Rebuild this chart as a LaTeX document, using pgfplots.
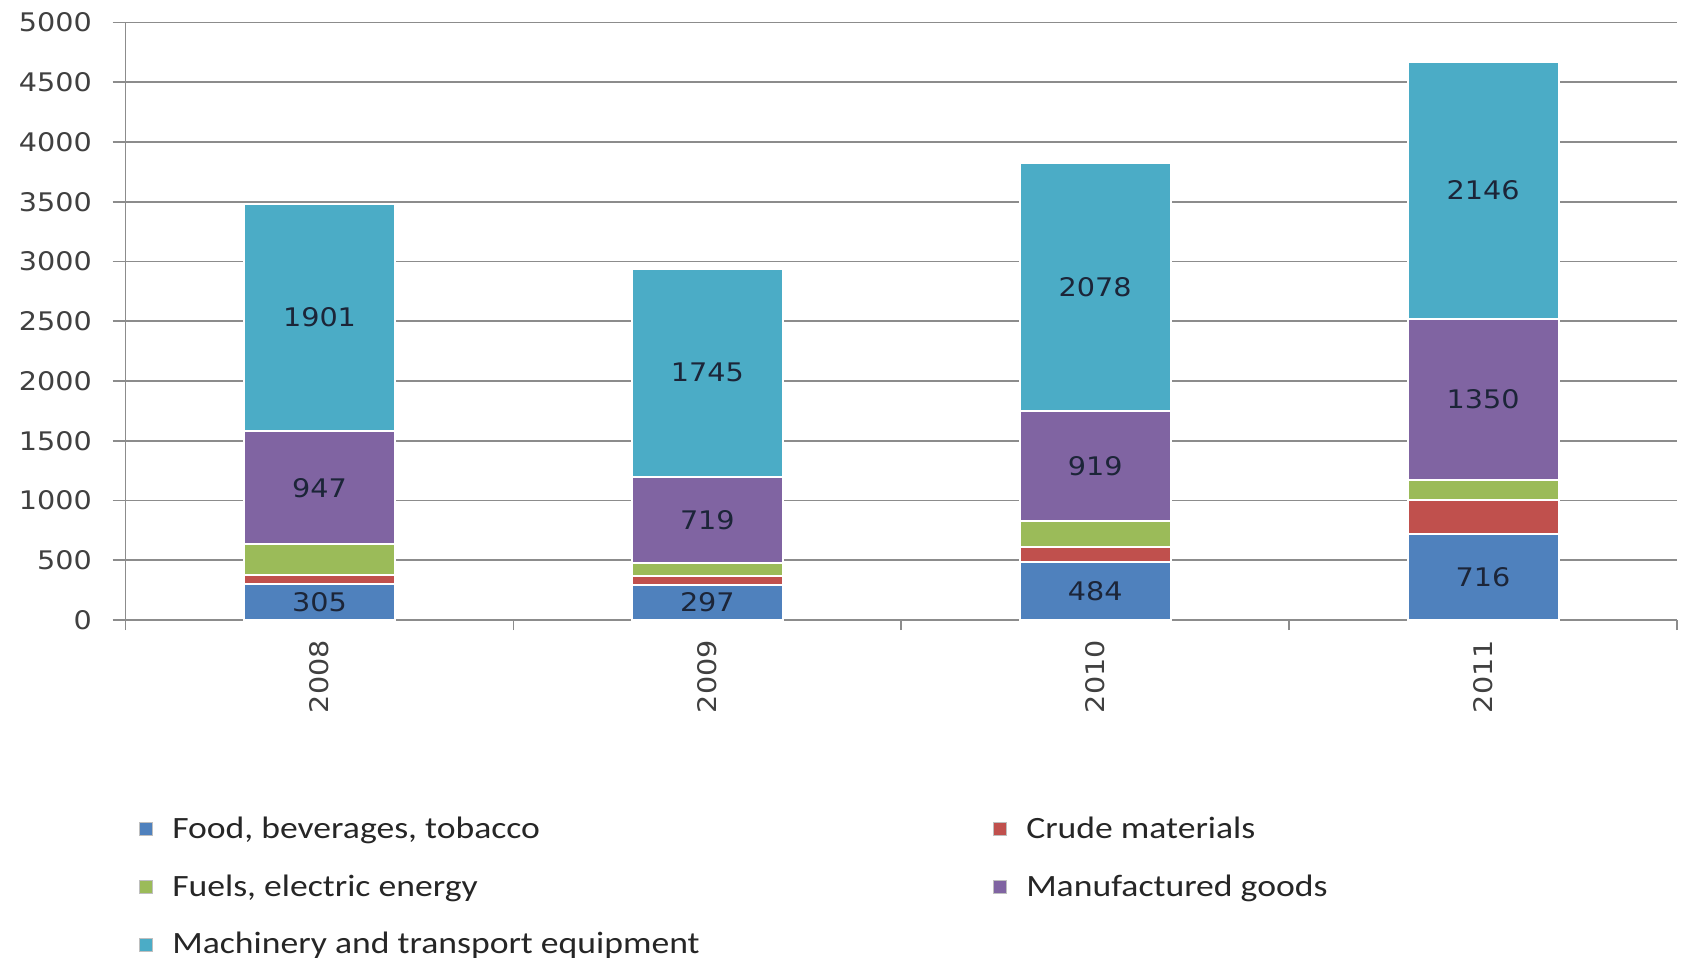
\documentclass[border=0pt]{standalone}
\usepackage{pgfplots}
\pgfplotsset{compat=1.18}
\usepackage{fontspec}
\setmainfont{Carlito}[FakeStretch=1.15]
\newfontfamily\numfont{DejaVu Sans}[FakeStretch=1.12]

\definecolor{food}{HTML}{4F81BD}
\definecolor{crude}{HTML}{C0504D}
\definecolor{fuels}{HTML}{9BBB59}
\definecolor{manuf}{HTML}{8064A2}
\definecolor{mach}{HTML}{4BACC6}
\definecolor{gridgray}{HTML}{8C8C8C}
\definecolor{ticktext}{HTML}{404040}
\definecolor{lbltext}{HTML}{1C2538}
\definecolor{legtext}{HTML}{262626}

\newcommand{\numsize}{\numfont\fontsize{12.8}{14}\selectfont}

\begin{document}
\begin{tikzpicture}
\useasboundingbox (-62.8pt,-169.5pt) rectangle (778.7pt,310pt);
\begin{axis}[%
  scale only axis,
  width=775.7pt, height=298.75pt,
  ybar stacked, bar width=75.5pt,
  xmin=-0.5, xmax=3.5, ymin=0, ymax=5000,
  % x axis
  xtick={0,1,2,3}, xticklabels={2008,2009,2010,2011},
  minor xtick={-0.5,0.5,1.5,2.5,3.5},
  x tick label style={rotate=90, anchor=east, font=\numsize, text=ticktext},
  % y axis
  ytick={0,500,...,5000},
  y tick label style={font=\numsize, text=ticktext, xshift=-6.8pt},
  scaled y ticks=false,
  /pgf/number format/assume math mode=true,
  /pgf/number format/set thousands separator={},
  axis x line*=bottom, axis y line*=left,
  axis line style={draw=gridgray, line width=0.8pt, -},
  ymajorgrids, grid style={draw=gridgray, line width=0.8pt},
  tick align=outside,
  major tick length=6.5pt, minor tick length=5pt,
  tick style={draw=gridgray, line width=0.8pt},
  major x tick style={draw=none},
  % labels inside the bars (already centred in the segment)
  lbl/.style={
    visualization depends on={rawy \as \rawy},
    nodes near coords={\pgfmathprintnumber{\rawy}},
    every node near coord/.append style={font=\numsize, text=lbltext,
      anchor=center},
  },
  % legend
  legend columns=2,
  legend cell align=left,
  legend style={draw=none, fill=none, at={(0.0043,-0.316)}, anchor=north west,
    font=\fontsize{15.5}{18}\selectfont, text=legtext,
    column sep=0pt, row sep=12.5pt,
    /tikz/every odd column/.append style={column sep=7.8pt}},
  legend image code/.code={%
    \draw[#1, draw=black!25, line width=0.5pt] (0pt,-3.25pt) rectangle (6.5pt,3.25pt);},
]
\addplot[fill=food, draw=white, line width=1pt, lbl]
  coordinates {(0,305) (1,297) (2,484) (3,716)};
\addlegendentry{\makebox[408.2pt][l]{Food, beverages, tobacco}}
\addplot[fill=crude, draw=white, line width=1pt]
  coordinates {(0,68) (1,75) (2,130) (3,290)};
\addlegendentry{Crude materials}
\addplot[fill=fuels, draw=white, line width=1pt]
  coordinates {(0,260) (1,105) (2,217) (3,166)};
\addlegendentry{\makebox[408.2pt][l]{Fuels, electric energy}}
\addplot[fill=manuf, draw=white, line width=1pt, lbl]
  coordinates {(0,947) (1,719) (2,919) (3,1350)};
\addlegendentry{Manufactured goods}
\addplot[fill=mach, draw=white, line width=1pt, lbl]
  coordinates {(0,1901) (1,1745) (2,2078) (3,2146)};
\addlegendentry{\makebox[408.2pt][l]{Machinery and transport equipment}}
\end{axis}
\end{tikzpicture}
\end{document}
